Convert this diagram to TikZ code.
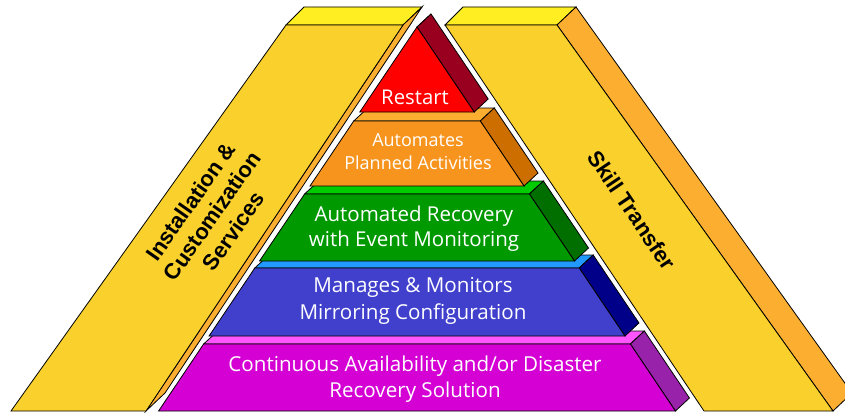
\documentclass[tikz,border=0pt]{standalone}
\usepackage{fontspec}
\setmainfont{Open Sans}
\newfontfamily\slabfont{Liberation Sans}
\definecolor{slabfront}{HTML}{F9D02C}
\definecolor{slabtop}{HTML}{FFEE22}
\definecolor{slabside}{HTML}{FBAE30}
\definecolor{redfront}{HTML}{FF0000}
\definecolor{redside}{HTML}{990020}
\definecolor{orafront}{HTML}{F7941E}
\definecolor{oratop}{HTML}{FBAE30}
\definecolor{oraside}{HTML}{CC6E00}
\definecolor{grnfront}{HTML}{009900}
\definecolor{grntop}{HTML}{00CC00}
\definecolor{grnside}{HTML}{006F00}
\definecolor{blufront}{HTML}{4040CC}
\definecolor{blutop}{HTML}{2299FF}
\definecolor{bluside}{HTML}{000088}
\definecolor{magfront}{HTML}{D400D4}
\definecolor{magtop}{HTML}{FF55FF}
\definecolor{magside}{HTML}{9922AA}
\begin{document}
\begin{tikzpicture}[x=1pt,y=-1pt,thick,
    slabtext/.style={font=\slabfont\bfseries\fontsize{22}{26}\selectfont,align=center},
    layertext/.style={text=white,align=center}]
  \clip (0,0) rectangle (845,412);
  \filldraw[fill=slabtop] (286,25) -- (304,7) -- (422,7) -- (403,25) -- cycle;
  \filldraw[fill=slabside] (403,25) -- (422,7) -- (165,393) -- (146,411) -- cycle;
  \filldraw[fill=slabfront] (286,25) -- (403,25) -- (146,411) -- (11,411) -- cycle;
  \filldraw[fill=slabtop] (445,25) -- (463,7) -- (576,7) -- (557,25) -- cycle;
  \filldraw[fill=slabside] (557,25) -- (576,7) -- (852,393) -- (833,411) -- cycle;
  \filldraw[fill=slabfront] (445,25) -- (557,25) -- (833,411) -- (704,411) -- cycle;
  \foreach \yt/\yb/\cf/\ct/\cs in {
    344/411/magfront/magtop/magside, 268/336/blufront/blutop/bluside,
    194/261/grnfront/grntop/grnside, 121/186/orafront/oratop/oraside,
    27/112/redfront/redfront/redside}
  {
    \filldraw[fill=\ct] ({417-0.673*(\yt-27)},\yt) -- ({431-0.673*(\yt-27)},\yt-13)
      -- ({431+0.673*(\yt-27)},\yt-13) -- ({417+0.673*(\yt-27)},\yt) -- cycle;
    \filldraw[fill=\cs] ({417+0.673*(\yt-27)},\yt) -- ({431+0.673*(\yt-27)},\yt-13)
      -- ({431+0.673*(\yb-27)},\yb-13) -- ({417+0.673*(\yb-27)},\yb) -- cycle;
    \filldraw[fill=\cf] ({417-0.673*(\yt-27)},\yt) -- ({417+0.673*(\yt-27)},\yt)
      -- ({417+0.673*(\yb-27)},\yb) -- ({417-0.673*(\yb-27)},\yb) -- cycle;
  }
  \node[layertext,font=\fontsize{20.3}{24}\selectfont] (restart) at (415,97) {Restart};
  \node[layertext,font=\fontsize{18}{23}\selectfont] (planned) at (418,152)
    {Automates\\Planned Activities};
  \node[layertext,font=\fontsize{20.5}{25}\selectfont] (recovery) at (414,229)
    {Automated Recovery\\with Event Monitoring};
  \node[layertext,font=\fontsize{20.6}{27}\selectfont] (mirroring) at (413,301)
    {Manages \& Monitors\\Mirroring Configuration};
  \node[layertext,font=\fontsize{20.6}{26}\selectfont] (disaster) at (415,379)
    {Continuous Availability and/or Disaster\\Recovery Solution};
  \node[slabtext,rotate=55] (install) at (212,216)
    {Installation \&\\Customization\\Services};
  \node[slabtext,rotate=-56] (skill) at (632,210) {Skill Transfer};
\end{tikzpicture}
\end{document}
